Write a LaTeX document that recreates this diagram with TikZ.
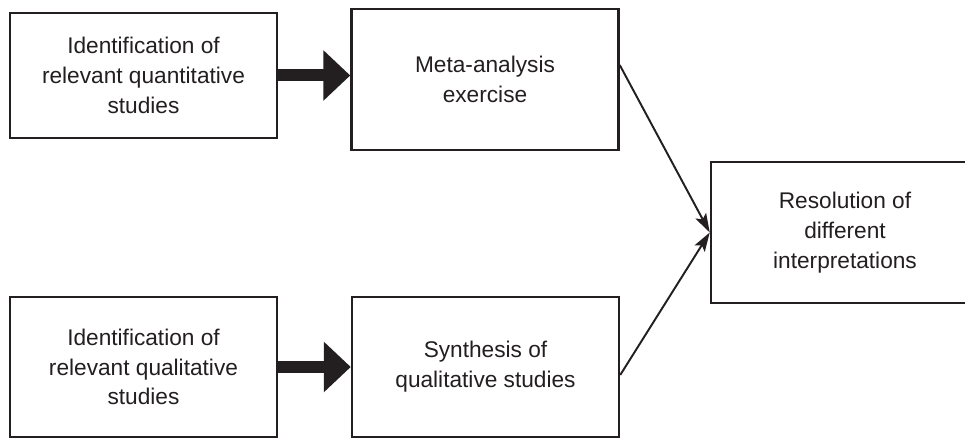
\documentclass[tikz,border=0pt]{standalone}
\usepackage{fontspec}
\setmainfont{Liberation Sans}
\usetikzlibrary{arrows.meta,positioning,calc}
\definecolor{ink}{HTML}{231F20}
\tikzset{
  stagebox/.style={draw=ink,fill=white,line width=1.4pt,
                   minimum width=5.34cm,minimum height=2.8cm,
                   align=center,inner sep=0pt,text=ink,
                   font=\fontsize{12.9}{17}\selectfont},
  blockarr/.style={-{Triangle[length=0.54cm,width=0.98cm]},line width=0.24cm,color=ink},
  thinarr/.style={-{Stealth[length=0.38cm,width=0.24cm,inset=0.08cm]},line width=1.1pt,color=ink}
}

\begin{document}
\begin{tikzpicture}
  \useasboundingbox (0,0) rectangle (19.3,8.76);
  \node[stagebox,minimum height=2.5cm] (quant) at (2.87,7.25) {Identification of\\relevant quantitative\\studies};
  \node[stagebox,minimum height=2.82cm] (meta) at (9.70,7.17) {Meta-analysis\\exercise};
  \node[stagebox] (qual) at (2.87,1.42) {Identification of\\relevant qualitative\\studies};
  \node[stagebox] (synth) at (9.71,1.42) {Synthesis of\\qualitative studies};
  \node[stagebox,minimum width=5.36cm,minimum height=2.82cm] (resol) at (16.9,4.11) {Resolution of\\different\\interpretations};

  \draw[blockarr] (quant.east) -- (quant.east -| meta.west);
  \draw[blockarr] (qual.east) -- (qual.east -| synth.west);
  \draw[thinarr] ([yshift=0.29cm]meta.east) -- (resol.west);
  \draw[thinarr] ([yshift=-0.16cm]synth.east) -- (resol.west);
\end{tikzpicture}
\end{document}
